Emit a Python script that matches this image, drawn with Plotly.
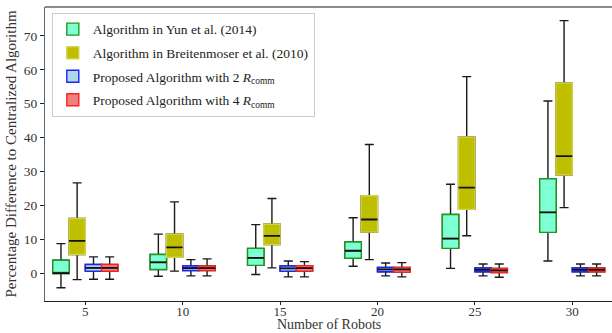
import plotly.graph_objects as go

robots = [5, 10, 15, 20, 25, 30]

# Algorithm in Yun et al. (2014)
yun_lf = [-4.2, -0.8, -0.3, 2.15, 1.5, 3.7]
yun_q1 = [0.0, 1.2, 2.4, 4.5, 7.4, 12.1]
yun_med = [0.1, 3.3, 4.6, 6.7, 10.3, 18.0]
yun_q3 = [3.9, 5.6, 7.4, 9.3, 17.4, 27.9]
yun_uf = [8.8, 11.6, 14.4, 16.4, 26.3, 50.8]

# Algorithm in Breitenmoser et al. (2010)
bre_lf = [-1.8, 0.7, 1.65, 4.1, 11.1, 19.4]
bre_q1 = [5.6, 4.8, 8.5, 12.2, 18.9, 29.0]
bre_med = [9.6, 7.7, 11.1, 15.9, 25.3, 34.6]
bre_q3 = [16.2, 11.6, 14.5, 22.9, 40.2, 56.1]
bre_uf = [26.7, 21.1, 22.1, 38.0, 58.0, 74.5]

# Proposed Algorithm with 2 R_comm
p2_lf = [-1.7, -0.7, -1.0, -0.7, -0.7, -0.7]
p2_q1 = [0.7, 0.9, 0.7, 0.5, 0.5, 0.5]
p2_med = [1.65, 1.6, 1.5, 1.2, 1.1, 1.1]
p2_q3 = [2.65, 2.2, 2.2, 1.8, 1.6, 1.6]
p2_uf = [4.9, 4.1, 3.7, 3.1, 2.8, 2.8]

# Proposed Algorithm with 4 R_comm
p4_lf = [-1.7, -0.7, -1.0, -1.0, -1.1, -0.7]
p4_q1 = [0.7, 0.9, 0.7, 0.4, 0.3, 0.5]
p4_med = [1.65, 1.6, 1.6, 1.2, 0.9, 1.1]
p4_q3 = [2.65, 2.2, 2.3, 1.8, 1.5, 1.6]
p4_uf = [4.9, 4.3, 3.5, 3.2, 2.8, 2.8]

series = [
    ("Algorithm in Yun et al. (2014)", yun_lf, yun_q1, yun_med, yun_q3, yun_uf,
     "#7FFFD4", "#1f9a1f", -1.25),
    ("Algorithm in Breitenmoser et al. (2010)", bre_lf, bre_q1, bre_med, bre_q3, bre_uf,
     "#BFBF00", "#d2d250", -0.42),
    ("Proposed Algorithm with 2 <i>R</i><sub>comm</sub>", p2_lf, p2_q1, p2_med, p2_q3, p2_uf,
     "#ADD8E6", "#2020ff", 0.42),
    ("Proposed Algorithm with 4 <i>R</i><sub>comm</sub>", p4_lf, p4_q1, p4_med, p4_q3, p4_uf,
     "#F08080", "#ff2020", 1.25),
]

BW = 0.84
fig = go.Figure()
for i, (name, lf, q1, med, q3, uf, fill, edge, off) in enumerate(series):
    xs = [r + off for r in robots]
    # whiskers (black)
    fig.add_trace(go.Box(x=xs, q1=q1, median=med, q3=q3, lowerfence=lf, upperfence=uf,
                         width=BW, whiskerwidth=0.55, fillcolor="rgba(0,0,0,0)",
                         line=dict(color="#1a1a1a", width=1.4), showlegend=False,
                         hoverinfo="skip", boxpoints=False))
for i, (name, lf, q1, med, q3, uf, fill, edge, off) in enumerate(series):
    xs = [r + off for r in robots]
    # coloured box
    fig.add_trace(go.Box(x=xs, q1=q1, median=med, q3=q3, lowerfence=q1, upperfence=q3,
                         width=BW, whiskerwidth=0, fillcolor=fill,
                         line=dict(color=edge, width=1.4), name=name, legendgroup="g%d" % i,
                         showlegend=True, hoverinfo="skip", boxpoints=False))
    # median line (black)
    fig.add_trace(go.Box(x=xs, q1=med, median=med, q3=med, lowerfence=med, upperfence=med,
                         width=BW, whiskerwidth=0, fillcolor="rgba(0,0,0,0)",
                         line=dict(color="#111111", width=1.8), showlegend=False,
                         legendgroup="g%d" % i, hoverinfo="skip", boxpoints=False))

serif = "Liberation Serif, Times New Roman, serif"
fig.update_layout(
    width=612, height=333,
    margin=dict(l=45, r=0, t=7, b=32),
    paper_bgcolor="white", plot_bgcolor="white",
    font=dict(family=serif, size=14, color="#222"),
    boxmode="overlay",
    showlegend=True,
    legend=dict(x=0.012, y=0.98, xanchor="left", yanchor="top",
                bgcolor="rgba(255,255,255,0.9)", bordercolor="#cccccc", borderwidth=1,
                font=dict(family=serif, size=13.5, color="#222"), tracegroupgap=3,
                itemwidth=30),
    xaxis=dict(range=[2.93, 32.04], tickvals=robots, ticktext=[str(r) for r in robots],
               showgrid=False, zeroline=False, showline=True, linecolor="#222", linewidth=1.3,
               ticks="outside", ticklen=3, tickcolor="#222", ticklabelstandoff=-5,
               tickfont=dict(family=serif, size=13, color="#333")),
    yaxis=dict(range=[-8.1, 78.5], tickvals=[0, 10, 20, 30, 40, 50, 60, 70],
               showgrid=False, zeroline=False, showline=True, linecolor="#666", linewidth=1.3,
               ticks="outside", ticklen=4, tickcolor="#222",
               tickfont=dict(family=serif, size=13.5, color="#333"),
               title=dict(text="Percentage Difference to Centralized Algorithm",
                          font=dict(family=serif, size=15, color="#333"), standoff=3)),
    shapes=[dict(type="line", xref="paper", yref="paper", x0=0, x1=1, y0=1, y1=1,
                 line=dict(color="#666", width=1.5))],
    annotations=[dict(text="Number of Robots", xref="paper", yref="paper", x=0.5, y=0,
                      xanchor="center", yanchor="middle", yshift=-23, showarrow=False,
                      font=dict(family=serif, size=14, color="#333"))],
)

fig.write_html("out.html")
